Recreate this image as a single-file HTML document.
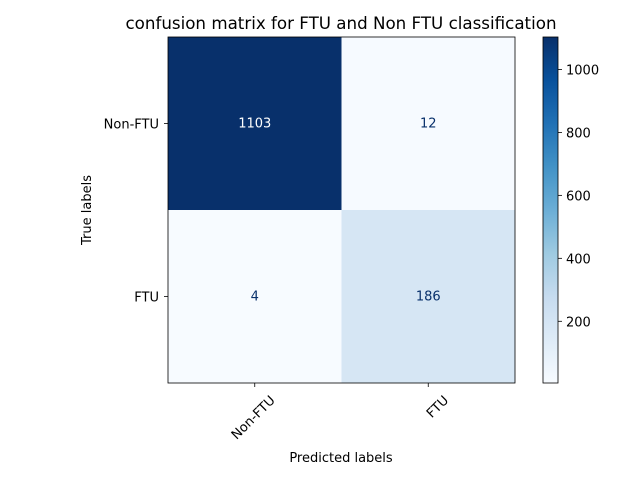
<!DOCTYPE html>
<html><head><meta charset="utf-8"><style>body{margin:0;background:#fff}svg{display:block}text{font-family:"DejaVu Sans","Liberation Sans",sans-serif}</style></head>
<body>
<svg id="c" width="640" height="480" viewBox="0 0 640 480">
<text x="341" y="29" font-size="16.7" text-anchor="middle">confusion matrix for FTU and Non FTU classification</text>
<g id="cells"></g>
<g id="axes"></g>
<defs><linearGradient id="blues" x1="0" y1="1" x2="0" y2="0">
<stop offset="0" stop-color="#f7fbff"/><stop offset="0.125" stop-color="#deebf7"/><stop offset="0.25" stop-color="#c6dbef"/><stop offset="0.375" stop-color="#9ecae1"/><stop offset="0.5" stop-color="#6baed6"/><stop offset="0.625" stop-color="#4292c6"/><stop offset="0.75" stop-color="#2171b5"/><stop offset="0.875" stop-color="#08519c"/><stop offset="1" stop-color="#08306b"/></linearGradient></defs>
<rect x="543" y="37" width="15" height="346" fill="url(#blues)" stroke="#000" stroke-width="0.8"/>
<g id="cbticks"></g>
<text x="91" y="210" font-size="13" text-anchor="middle" transform="rotate(-90 91 210)">True labels</text>
<text x="341" y="462" font-size="13" text-anchor="middle">Predicted labels</text>
</svg>
<script>
const labels=["Non-FTU","FTU"];
const matrix=[[1103,12],[4,186]];
const cbTicks=[200,400,600,800,1000];
const NS="http://www.w3.org/2000/svg";
const L=168,R=515,T=37,B=383;
const vmin=Math.min(...matrix.flat()),vmax=Math.max(...matrix.flat());
const stops=["#f7fbff","#deebf7","#c6dbef","#9ecae1","#6baed6","#4292c6","#2171b5","#08519c","#08306b"];
function hex(h){return [1,3,5].map(i=>parseInt(h.substr(i,2),16));}
function cmap(t){t=Math.max(0,Math.min(1,t))*8;const i=Math.min(7,Math.floor(t)),f=t-i;const a=hex(stops[i]),b=hex(stops[i+1]);return "rgb("+a.map((v,k)=>Math.round(v+(b[k]-v)*f)).join(",")+")";}
function mk(tag,at,p){const e=document.createElementNS(NS,tag);for(const k in at)e.setAttribute(k,at[k]);p.appendChild(e);return e;}
const n=labels.length,cw=(R-L)/n,ch=(B-T)/n;
const cells=document.getElementById("cells"),axes=document.getElementById("axes");
for(let i=0;i<n;i++)for(let j=0;j<n;j++){
 const t=(matrix[i][j]-vmin)/(vmax-vmin);
 const r=mk("rect",{x:L+j*cw,y:T+i*ch,width:cw,height:ch,fill:cmap(t)},cells);
 
 
 const tx=mk("text",{x:L+(j+.5)*cw,y:T+(i+.5)*ch+4,"font-size":13,"text-anchor":"middle",fill:t>0.5?"#fff":"#08306b"},cells);
 tx.textContent=matrix[i][j];
 
 
}
const fr=mk("rect",{x:L,y:T,width:R-L,height:B-T,fill:"none",stroke:"#000","stroke-width":0.8},axes);


labels.forEach((lb,k)=>{
 const x=L+(k+.5)*cw,y=T+(k+.5)*ch;
 mk("line",{x1:x,y1:B,x2:x,y2:B+4,stroke:"#000","stroke-width":0.8},axes);
 const ax=x+21,ay=B+18;
 const xt=mk("text",{x:ax,y:ay,"font-size":13,"text-anchor":"end",transform:"rotate(-45 "+ax+" "+ay+")"},axes);
 xt.textContent=lb;
 
 
 mk("line",{x1:L-4,y1:y,x2:L,y2:y,stroke:"#000","stroke-width":0.8},axes);
 const yt=mk("text",{x:L-9,y:y+5,"font-size":13,"text-anchor":"end"},axes);
 yt.textContent=lb;
 
 
});
const cb=document.getElementById("cbticks");
cbTicks.forEach(v=>{
 const y=B-(v-vmin)/(vmax-vmin)*(B-T);
 mk("line",{x1:558,y1:y,x2:562,y2:y,stroke:"#000","stroke-width":0.8},cb);
 const t=mk("text",{x:566,y:y+5,"font-size":13},cb);
 t.textContent=v;
 
 
});
</script>
</body></html>
